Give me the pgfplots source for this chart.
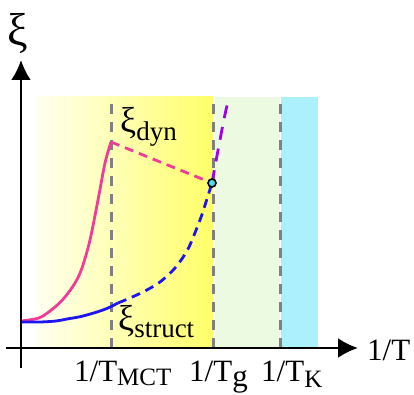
\documentclass[border=0pt]{standalone}
\usepackage{fontspec}
\setmainfont{Liberation Serif}
\usepackage{pgfplots}
\pgfplotsset{compat=1.18}
\usetikzlibrary{arrows.meta}
\definecolor{pinkc}{RGB}{240,60,150}
\definecolor{bluec}{RGB}{30,20,240}
\definecolor{purc}{RGB}{160,0,240}
\definecolor{greenbg}{RGB}{235,250,225}
\definecolor{cyanbg}{RGB}{172,240,252}
\definecolor{ylight}{RGB}{255,255,242}
\definecolor{ydark}{RGB}{255,255,105}
\definecolor{dotc}{RGB}{80,220,235}
\definecolor{dgray}{RGB}{128,128,128}
\newcommand{\lsub}[3]{\raisebox{-#2}{\fontsize{#1}{#1}\selectfont #3}}
\begin{document}
\begin{tikzpicture}[font=\fontsize{31}{35}\selectfont]
\begin{axis}[
  scale only axis, width=352pt, height=308pt,
  xmin=-15, xmax=337, ymin=-20, ymax=288,
  axis lines=middle,
  axis line style={line width=2.7pt, -{Latex[length=20pt,width=20pt]}},
  axis on top,
  clip=false,
  xtick=\empty, ytick=\empty,
  xlabel={1/T},
  ylabel={\fontsize{46}{50}\selectfont ξ},
  xlabel style={at={(axis cs:346,-12)}, anchor=base west, inner sep=0pt},
  ylabel style={at={(axis cs:-14,302)}, anchor=base west, inner sep=0pt, rotate=0},
]
% background regions
\addplot[draw=none, left color=ylight, right color=ydark, shading=axis, shading angle=90]
  coordinates {(14,0) (192,0) (192,251) (14,251)} -- cycle;
\addplot[draw=none, fill=greenbg] coordinates {(193.5,0) (258.5,0) (258.5,251) (193.5,251)} -- cycle;
\addplot[draw=none, fill=cyanbg] coordinates {(260,0) (297,0) (297,251) (260,251)} -- cycle;
% dashed temperature markers
\addplot[dgray, line width=3pt, dash pattern=on 10pt off 8pt] coordinates {(90,0) (90,251)};
\addplot[dgray, line width=3pt, dash pattern=on 10pt off 8pt] coordinates {(192,0) (192,251)};
\addplot[dgray, line width=3pt, dash pattern=on 10pt off 8pt] coordinates {(259,0) (259,251)};
% xi_dyn
\addplot[pinkc, line width=2.8pt, smooth, tension=0.5] coordinates {(0,27) (14,29) (22,32) (34,41) (44,51) (54,65) (61,80) (69,108) (77,148) (84,185) (90,206)};
\addplot[pinkc, line width=2.8pt, dash pattern=on 9pt off 6pt] coordinates {(90,206) (191,165)};
% xi_struct
\addplot[bluec, line width=2.8pt, smooth] coordinates {(0,26) (19,26) (35,27) (46,29) (60,31.5) (76,36) (87,40) (97,45)};
\addplot[bluec, line width=2.8pt, smooth, dash pattern=on 9pt off 6pt] coordinates {(97,45) (109,50) (124,57) (139,66) (154,80) (167,99) (179,128) (185,146) (191,165)};
\addplot[purc, line width=2.8pt, smooth, dash pattern=on 13pt off 9pt] coordinates {(191,165) (195,187) (199,208) (203,229) (208,251)};
\addplot[only marks, mark=*, mark size=4pt, mark options={fill=dotc, draw=black, line width=1.6pt}] coordinates {(191,165)};
% labels
\node[anchor=base west, inner sep=0pt] at (axis cs:99,215) {{\fontsize{36}{40}\selectfont ξ}\lsub{27}{7pt}{dyn}};
\node[anchor=base west, inner sep=0pt] at (axis cs:97,18) {{\fontsize{36}{40}\selectfont ξ}\lsub{27}{7pt}{struct}};
\node[anchor=base west, inner sep=0pt] at (axis cs:53,-33) {1/T\lsub{25}{4pt}{MCT}};
\node[anchor=base west, inner sep=0pt] at (axis cs:168,-33) {1/T\lsub{31}{5pt}{g}};
\node[anchor=base west, inner sep=0pt] at (axis cs:240,-33) {1/T\lsub{25}{6pt}{K}};
\path (axis cs:-21,-46) rectangle (axis cs:393,348);
\end{axis}
\end{tikzpicture}
\end{document}
